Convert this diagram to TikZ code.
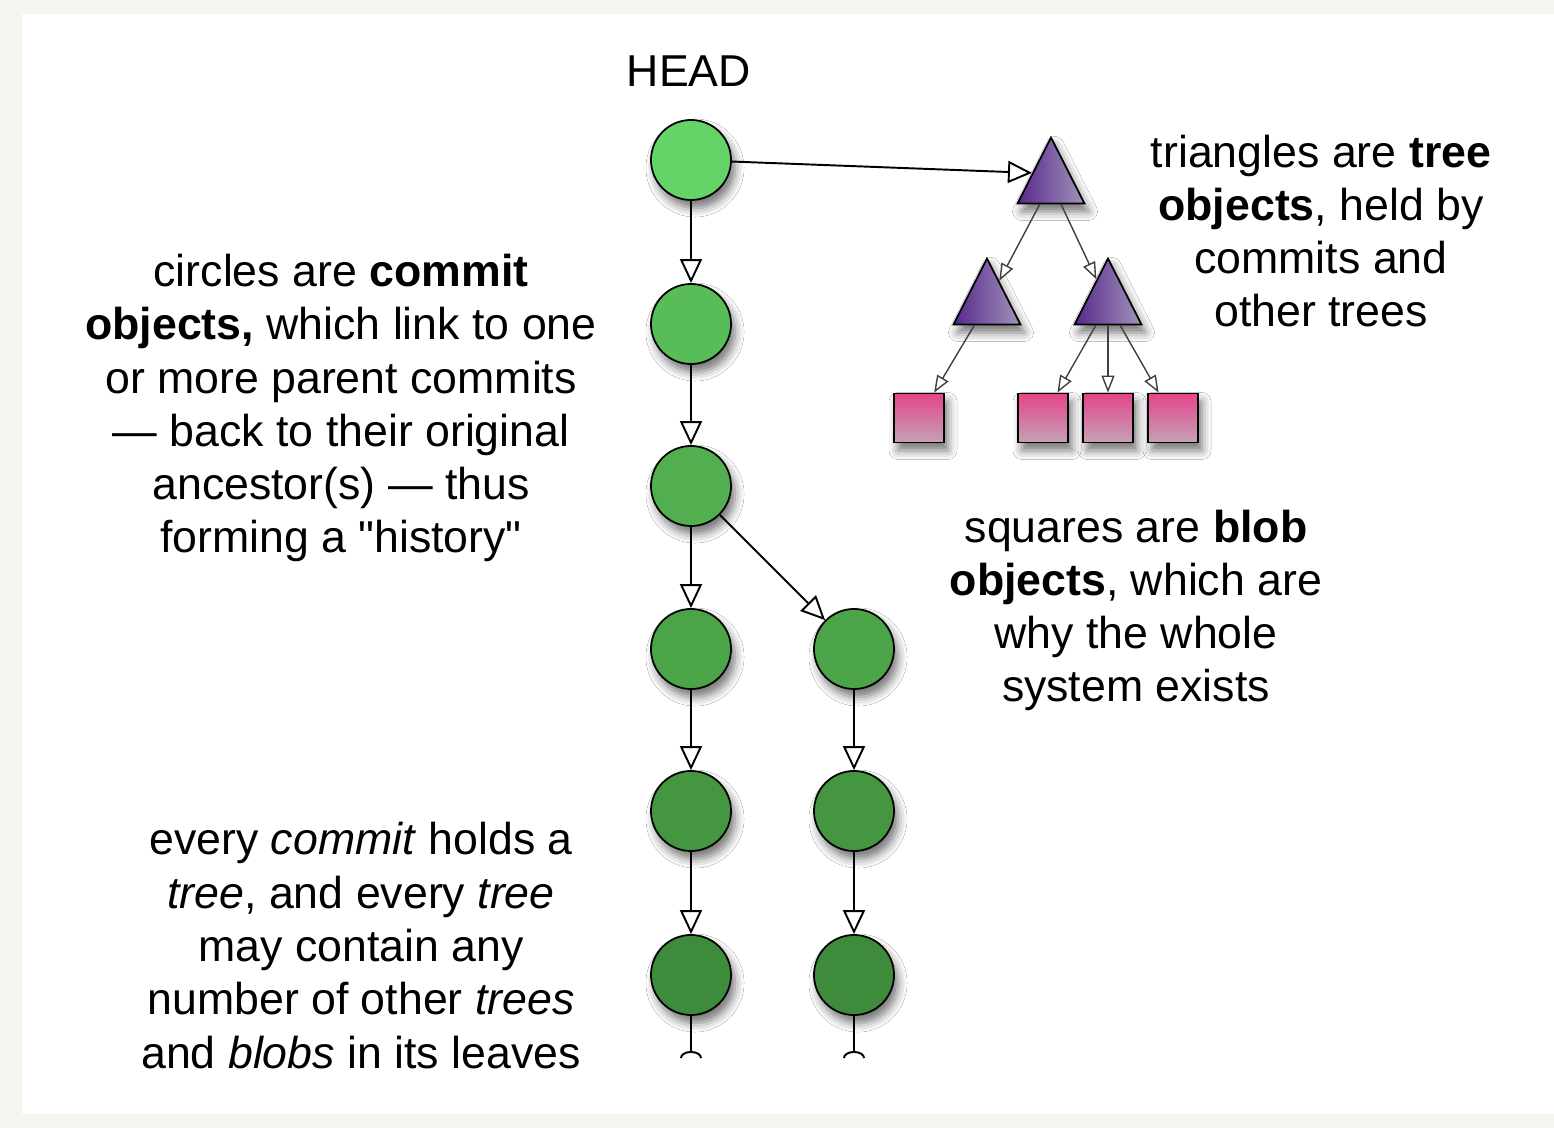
\documentclass[tikz,border=0pt]{standalone}
\usepackage{fontspec}
\setmainfont{Liberation Sans}
\usetikzlibrary{arrows.meta,positioning,shapes.geometric,calc,shadows.blur}
\definecolor{gitbg}{RGB}{247,245,240}
\definecolor{commitA}{RGB}{100,212,104}
\definecolor{commitB}{RGB}{88,189,88}
\definecolor{commitC}{RGB}{82,175,79}
\definecolor{commitD}{RGB}{75,164,72}
\definecolor{commitE}{RGB}{68,150,65}
\definecolor{commitF}{RGB}{62,139,59}
\definecolor{treedark}{RGB}{86,40,140}
\definecolor{treelight}{RGB}{162,148,186}
\definecolor{blobtop}{RGB}{228,68,140}
\definecolor{blobbot}{RGB}{198,162,182}

\tikzset{
  objshadow/.style={blur shadow={shadow xshift=0.04cm, shadow yshift=-0.08cm, shadow blur radius=0.09cm, shadow opacity=55}},
  commit/.style={circle, draw=black, line width=0.5pt, minimum size=0.8cm, inner sep=0pt, fill=#1, objshadow},
  treeobj/.style={isosceles triangle, shape border rotate=90, isosceles triangle stretches, minimum width=0.67cm, minimum height=0.66cm, inner sep=0pt, draw=black, line width=0.5pt, left color=treedark, right color=treelight, objshadow},
  blobobj/.style={rectangle, draw=black, line width=0.5pt, minimum width=0.5cm, minimum height=0.49cm, inner sep=0pt, top color=blobtop, bottom color=blobbot, objshadow},
  parentlink/.style={line width=0.55pt, -{Triangle[open, fill=white, length=0.24cm, width=0.22cm]}},
  treelink/.style={line width=0.4pt, draw=black!75, -{Triangle[open, fill=white, length=0.17cm, width=0.13cm]}},
  note/.style={align=center, inner sep=0pt, anchor=base, font=\fontsize{12.7}{15.15}\selectfont},
}

\begin{document}
\begin{tikzpicture}[x=0.01cm, y=-0.01cm]
  \useasboundingbox (0,0) rectangle (1554,1128);
  % Page background
  \fill[gitbg] (0,0) rectangle (1554,1128);
  \fill[white] (22,14) rectangle (1554,1114);

  % Commits, main line
  \node[note] (head) at (689,87) {HEAD};
  \node[commit=commitA] (c1) at (691,160) {};
  \node[commit=commitB] (c2) at (691,324) {};
  \node[commit=commitC] (c3) at (691,486) {};
  \node[commit=commitD] (c4) at (691,649) {};
  \node[commit=commitE] (c5) at (691,811) {};
  \node[commit=commitF] (c6) at (691,975) {};

  % Commits, side branch
  \node[commit=commitD] (d4) at (854,649) {};
  \node[commit=commitE] (d5) at (854,811) {};
  \node[commit=commitF] (d6) at (854,975) {};

  % Trees
  \node[treeobj] (t0) at (1051,183) {};
  \node[treeobj] (t1) at (987,304) {};
  \node[treeobj] (t2) at (1108,304) {};

  % Blobs
  \node[blobobj] (b1) at (919,418) {};
  \node[blobobj] (b2) at (1043,418) {};
  \node[blobobj] (b3) at (1108,418) {};
  \node[blobobj] (b4) at (1173,418) {};

  % History links
  \draw[parentlink] (c1) -- (c2);
  \draw[parentlink] (c2) -- (c3);
  \draw[parentlink] (c3) -- (c4);
  \draw[parentlink] (c4) -- (c5);
  \draw[parentlink] (c5) -- (c6);
  \draw[parentlink] (c3) -- (d4);
  \draw[parentlink] (d4) -- (d5);
  \draw[parentlink] (d5) -- (d6);
  \draw[parentlink] (c1) -- (t0.152);

  % Loose ends
  \coordinate (e1) at (691,1058);
  \coordinate (e2) at (854,1058);
  \draw[line width=0.55pt, -{Arc Barb[reversed, length=0.07cm, width=0.22cm]}] (c6) -- (e1);
  \draw[line width=0.55pt, -{Arc Barb[reversed, length=0.07cm, width=0.22cm]}] (d6) -- (e2);

  % Tree contents
  \draw[treelink] (t0) -- (t1);
  \draw[treelink] (t0) -- (t2);
  \draw[treelink] (t1) -- (b1);
  \draw[treelink] (t2) -- (b2);
  \draw[treelink] (t2) -- (b3);
  \draw[treelink] (t2) -- (b4);

  % Notes (base = last line)
  \node[note] (n1) at (341,553) {circles are \textbf{commit}\\\textbf{objects,} which link to one\\or more parent commits\\--- back to their original\\ancestor(s) --- thus\\forming a \textquotedbl history\textquotedbl};
  \node[note] (n2) at (1321,327) {triangles are \textbf{tree}\\\textbf{objects}, held by\\commits and\\other trees};
  \node[note] (n3) at (1136,702) {squares are \textbf{blob}\\\textbf{objects}, which are\\why the whole\\system exists};
  \node[note] (n4) at (361,1068) {every \textit{commit} holds a\\\textit{tree}, and every \textit{tree}\\may contain any\\number of other \textit{trees}\\and \textit{blobs} in its leaves};
\end{tikzpicture}
\end{document}
